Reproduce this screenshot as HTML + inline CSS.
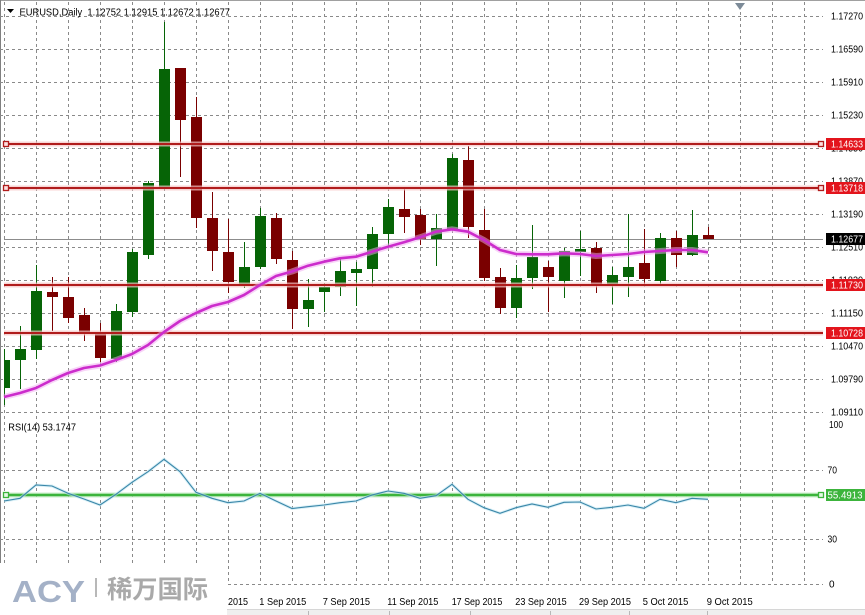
<!DOCTYPE html>
<html><head><meta charset="utf-8"><style>
html,body{margin:0;padding:0;background:#fff;width:865px;height:615px;overflow:hidden}
svg{display:block}
text{font-family:"Liberation Sans","Noto Sans CJK SC",sans-serif;}
</style></head><body>
<svg width="865" height="615" viewBox="0 0 865 615" xmlns="http://www.w3.org/2000/svg">
<defs><clipPath id="pl"><rect x="4" y="0" width="819" height="600"/></clipPath></defs>
<rect width="865" height="615" fill="#fff"/>
<!-- borders -->
<line x1="0" y1="0.5" x2="865" y2="0.5" stroke="#a0a0a0"/>
<line x1="0.5" y1="0" x2="0.5" y2="563" stroke="#808080"/>
<!-- horizontal grid -->
<g stroke="#8a8a8a" stroke-width="1" stroke-dasharray="3,3">
<line x1="0" y1="16.5" x2="823" y2="16.5"/>
<line x1="0" y1="49.5" x2="823" y2="49.5"/>
<line x1="0" y1="82.5" x2="823" y2="82.5"/>
<line x1="0" y1="115.5" x2="823" y2="115.5"/>
<line x1="0" y1="148.5" x2="823" y2="148.5"/>
<line x1="0" y1="181.5" x2="823" y2="181.5"/>
<line x1="0" y1="214.5" x2="823" y2="214.5"/>
<line x1="0" y1="247.5" x2="823" y2="247.5"/>
<line x1="0" y1="280.5" x2="823" y2="280.5"/>
<line x1="0" y1="313.5" x2="823" y2="313.5"/>
<line x1="0" y1="346.5" x2="823" y2="346.5"/>
<line x1="0" y1="379.5" x2="823" y2="379.5"/>
<line x1="0" y1="412.5" x2="823" y2="412.5"/>
<line x1="0" y1="470.5" x2="823" y2="470.5"/>
<line x1="0" y1="539.5" x2="823" y2="539.5"/>
<line x1="0" y1="584.5" x2="823" y2="584.5"/>
</g>
<!-- vertical grid -->
<g stroke="#8a8a8a" stroke-width="1" stroke-dasharray="3,3">
<line x1="4.5" y1="2" x2="4.5" y2="584"/><line x1="36.5" y1="2" x2="36.5" y2="584"/><line x1="68.5" y1="2" x2="68.5" y2="584"/><line x1="100.5" y1="2" x2="100.5" y2="584"/><line x1="132.5" y1="2" x2="132.5" y2="584"/><line x1="164.5" y1="2" x2="164.5" y2="584"/><line x1="196.5" y1="2" x2="196.5" y2="584"/><line x1="228.5" y1="2" x2="228.5" y2="584"/><line x1="260.5" y1="2" x2="260.5" y2="584"/><line x1="292.5" y1="2" x2="292.5" y2="584"/><line x1="324.5" y1="2" x2="324.5" y2="584"/><line x1="356.5" y1="2" x2="356.5" y2="584"/><line x1="388.5" y1="2" x2="388.5" y2="584"/><line x1="420.5" y1="2" x2="420.5" y2="584"/><line x1="452.5" y1="2" x2="452.5" y2="584"/><line x1="484.5" y1="2" x2="484.5" y2="584"/><line x1="516.5" y1="2" x2="516.5" y2="584"/><line x1="548.5" y1="2" x2="548.5" y2="584"/><line x1="580.5" y1="2" x2="580.5" y2="584"/><line x1="612.5" y1="2" x2="612.5" y2="584"/><line x1="644.5" y1="2" x2="644.5" y2="584"/><line x1="676.5" y1="2" x2="676.5" y2="584"/><line x1="708.5" y1="2" x2="708.5" y2="584"/><line x1="740.5" y1="12" x2="740.5" y2="584"/><line x1="772.5" y1="2" x2="772.5" y2="584"/><line x1="804.5" y1="2" x2="804.5" y2="584"/>
</g>
<!-- current price line -->
<line x1="4" y1="239.5" x2="823" y2="239.5" stroke="#8c8c8c" stroke-width="1"/>
<!-- candles -->
<g clip-path="url(#pl)">
<g fill="#066406">
<rect x="4" y="349" width="1" height="56"/><rect x="4" y="360" width="6" height="28"/>
<rect x="20" y="326" width="1" height="63"/><rect x="15" y="349" width="11" height="11"/>
<rect x="36" y="265" width="1" height="94"/><rect x="31" y="291" width="11" height="59"/>
<rect x="116" y="304" width="1" height="58"/><rect x="111" y="311" width="11" height="48"/>
<rect x="132" y="249" width="1" height="68"/><rect x="127" y="252" width="11" height="60"/>
<rect x="148" y="181" width="1" height="78"/><rect x="143" y="183" width="11" height="72"/>
<rect x="164" y="22" width="1" height="168"/><rect x="159" y="69" width="11" height="119"/>
<rect x="244" y="242" width="1" height="46"/><rect x="239" y="267" width="11" height="18"/>
<rect x="260" y="208" width="1" height="61"/><rect x="255" y="216" width="11" height="51"/>
<rect x="308" y="279" width="1" height="48"/><rect x="303" y="300" width="11" height="9"/>
<rect x="324" y="283" width="1" height="29"/><rect x="319" y="287" width="11" height="5"/>
<rect x="340" y="258" width="1" height="38"/><rect x="335" y="271" width="11" height="16"/>
<rect x="356" y="262" width="1" height="44"/><rect x="351" y="269" width="11" height="4"/>
<rect x="372" y="227" width="1" height="60"/><rect x="367" y="234" width="11" height="35"/>
<rect x="388" y="199" width="1" height="47"/><rect x="383" y="207" width="11" height="27"/>
<rect x="436" y="214" width="1" height="52"/><rect x="431" y="228" width="11" height="11"/>
<rect x="452" y="154" width="1" height="76"/><rect x="447" y="158" width="11" height="71"/>
<rect x="516" y="265" width="1" height="53"/><rect x="511" y="278" width="11" height="30"/>
<rect x="532" y="225" width="1" height="64"/><rect x="527" y="257" width="11" height="21"/>
<rect x="564" y="248" width="1" height="50"/><rect x="559" y="251" width="11" height="30"/>
<rect x="580" y="231" width="1" height="45"/><rect x="575" y="249" width="11" height="3"/>
<rect x="612" y="267" width="1" height="37"/><rect x="607" y="275" width="11" height="9"/>
<rect x="628" y="214" width="1" height="83"/><rect x="623" y="267" width="11" height="10"/>
<rect x="660" y="233" width="1" height="51"/><rect x="655" y="238" width="11" height="43"/>
<rect x="692" y="210" width="1" height="46"/><rect x="687" y="235" width="11" height="20"/>
</g>
<g fill="#7a0000">
<rect x="52" y="277" width="1" height="54"/><rect x="47" y="292" width="11" height="5"/>
<rect x="68" y="277" width="1" height="46"/><rect x="63" y="297" width="11" height="21"/>
<rect x="84" y="308" width="1" height="33"/><rect x="79" y="315" width="11" height="18"/>
<rect x="100" y="323" width="1" height="39"/><rect x="95" y="333" width="11" height="25"/>
<rect x="180" y="68" width="1" height="109"/><rect x="175" y="68" width="11" height="52"/>
<rect x="196" y="97" width="1" height="131"/><rect x="191" y="117" width="11" height="101"/>
<rect x="212" y="192" width="1" height="79"/><rect x="207" y="218" width="11" height="33"/>
<rect x="228" y="219" width="1" height="74"/><rect x="223" y="252" width="11" height="30"/>
<rect x="276" y="213" width="1" height="51"/><rect x="271" y="218" width="11" height="41"/>
<rect x="292" y="251" width="1" height="78"/><rect x="287" y="260" width="11" height="49"/>
<rect x="404" y="188" width="1" height="45"/><rect x="399" y="209" width="11" height="8"/>
<rect x="420" y="209" width="1" height="36"/><rect x="415" y="215" width="11" height="24"/>
<rect x="468" y="146" width="1" height="92"/><rect x="463" y="160" width="11" height="67"/>
<rect x="484" y="209" width="1" height="72"/><rect x="479" y="230" width="11" height="48"/>
<rect x="500" y="268" width="1" height="46"/><rect x="495" y="277" width="11" height="31"/>
<rect x="548" y="261" width="1" height="51"/><rect x="543" y="267" width="11" height="10"/>
<rect x="596" y="242" width="1" height="51"/><rect x="591" y="248" width="11" height="36"/>
<rect x="644" y="229" width="1" height="56"/><rect x="639" y="263" width="11" height="16"/>
<rect x="676" y="231" width="1" height="36"/><rect x="671" y="238" width="11" height="17"/>
<rect x="708" y="227" width="1" height="12"/><rect x="703" y="235" width="11" height="4"/>
</g>
</g>
<!-- red horizontal lines -->
<g fill="none">
<g stroke="#f6c4c4" stroke-width="5" opacity="0.7">
<line x1="4" y1="144" x2="823" y2="144"/><line x1="4" y1="188" x2="823" y2="188"/><line x1="4" y1="285" x2="823" y2="285"/><line x1="4" y1="333" x2="823" y2="333"/>
</g>
<g stroke="#b01c1c" stroke-width="2">
<line x1="4" y1="144" x2="823" y2="144"/><line x1="4" y1="188" x2="823" y2="188"/><line x1="4" y1="285" x2="823" y2="285"/><line x1="4" y1="333" x2="823" y2="333"/>
</g>
<g stroke="#b01c1c" stroke-width="1.3" fill="#fde0e0">
<rect x="3.5" y="141.5" width="5" height="5"/><rect x="818.5" y="141.5" width="5" height="5"/>
<rect x="3.5" y="185.5" width="5" height="5"/><rect x="818.5" y="185.5" width="5" height="5"/>
</g>
</g>
<!-- MA -->
<polyline fill="none" stroke="#f2a8f2" stroke-width="6" opacity="0.5" stroke-linejoin="round" points="4,397 20,393 36,388 52,380 68,373 84,368 100,365.5 116,360 132,354 148,345 164,332 180,321 196,313 212,306 228,302 244,295 260,285 276,276 292,271.5 308,265.7 324,261.7 340,258.3 356,256.7 372,251.7 388,246.7 404,242.3 420,237.3 436,231.7 452,229.3 468,231.7 484,240 500,250 516,254 532,254.3 548,254.3 564,253.3 580,254 596,256 612,255 628,254 644,252 660,251 676,250 692,250 708,252.3"/>
<polyline fill="none" stroke="#cc2ccc" stroke-width="2.6" stroke-linejoin="round" points="4,397 20,393 36,388 52,380 68,373 84,368 100,365.5 116,360 132,354 148,345 164,332 180,321 196,313 212,306 228,302 244,295 260,285 276,276 292,271.5 308,265.7 324,261.7 340,258.3 356,256.7 372,251.7 388,246.7 404,242.3 420,237.3 436,231.7 452,229.3 468,231.7 484,240 500,250 516,254 532,254.3 548,254.3 564,253.3 580,254 596,256 612,255 628,254 644,252 660,251 676,250 692,250 708,252.3"/>
<!-- RSI green level -->
<line x1="4" y1="495" x2="823" y2="495" stroke="#b8e8b8" stroke-width="5" opacity="0.7"/>
<line x1="4" y1="495" x2="823" y2="495" stroke="#3cb43c" stroke-width="2.5"/>
<rect x="3.5" y="492.5" width="5" height="5" fill="#e6f8e6" stroke="#3cb43c" stroke-width="1.3"/>
<rect x="818.5" y="492.5" width="5" height="5" fill="#e6f8e6" stroke="#3cb43c" stroke-width="1.3"/>
<!-- RSI line -->
<polyline fill="none" stroke="#bfe6f2" stroke-width="3" opacity="0.6" points="4,501 20,498.3 36,485 52,486 68,493.3 84,499 100,505 116,494.3 132,482.3 148,471.7 164,459.3 180,471.7 196,492.3 212,498.3 228,502.7 244,501 260,493.3 276,501 292,508.5 308,506.7 324,505 340,502.7 356,501 372,495 388,491 404,493.3 420,498.3 436,495.7 452,484.3 468,499.3 484,507.7 500,513.3 516,507.7 532,504 548,507.3 564,502.3 580,502 596,509 612,507.3 628,505 644,508.3 660,499.3 676,502.7 692,498.3 708,499.3"/>
<polyline fill="none" stroke="#3a86a8" stroke-width="1.1" points="4,501 20,498.3 36,485 52,486 68,493.3 84,499 100,505 116,494.3 132,482.3 148,471.7 164,459.3 180,471.7 196,492.3 212,498.3 228,502.7 244,501 260,493.3 276,501 292,508.5 308,506.7 324,505 340,502.7 356,501 372,495 388,491 404,493.3 420,498.3 436,495.7 452,484.3 468,499.3 484,507.7 500,513.3 516,507.7 532,504 548,507.3 564,502.3 580,502 596,509 612,507.3 628,505 644,508.3 660,499.3 676,502.7 692,498.3 708,499.3"/>
<!-- title -->
<polygon points="7,9 14,9 10.5,13" fill="#000"/>
<text x="19.5" y="15.3" font-size="10" fill="#000" textLength="210.5" lengthAdjust="spacingAndGlyphs" style="white-space:pre">EURUSD,Daily  1.12752 1.12915 1.12672 1.12677</text>
<polygon points="735,3 745,3 740,10" fill="#7d8b98"/>
<!-- price axis labels -->
<g font-size="10" fill="#000">
<text x="831" y="19.6" textLength="32" lengthAdjust="spacingAndGlyphs">1.17270</text>
<text x="831" y="52.6" textLength="32" lengthAdjust="spacingAndGlyphs">1.16590</text>
<text x="831" y="85.6" textLength="32" lengthAdjust="spacingAndGlyphs">1.15910</text>
<text x="831" y="118.6" textLength="32" lengthAdjust="spacingAndGlyphs">1.15230</text>
<text x="831" y="151.6" textLength="32" lengthAdjust="spacingAndGlyphs">1.14550</text>
<text x="831" y="184.6" textLength="32" lengthAdjust="spacingAndGlyphs">1.13870</text>
<text x="831" y="217.6" textLength="32" lengthAdjust="spacingAndGlyphs">1.13190</text>
<text x="831" y="250.6" textLength="32" lengthAdjust="spacingAndGlyphs">1.12510</text>
<text x="831" y="283.6" textLength="32" lengthAdjust="spacingAndGlyphs">1.11830</text>
<text x="831" y="316.6" textLength="32" lengthAdjust="spacingAndGlyphs">1.11150</text>
<text x="831" y="349.6" textLength="32" lengthAdjust="spacingAndGlyphs">1.10470</text>
<text x="831" y="382.6" textLength="32" lengthAdjust="spacingAndGlyphs">1.09790</text>
<text x="831" y="415.3" textLength="32" lengthAdjust="spacingAndGlyphs">1.09110</text>
<text x="829" y="428" textLength="14" lengthAdjust="spacingAndGlyphs">100</text>
<text x="827.5" y="473.6" textLength="9.5" lengthAdjust="spacingAndGlyphs">70</text>
<text x="827.5" y="542.6" textLength="9.5" lengthAdjust="spacingAndGlyphs">30</text>
<text x="829" y="587.6">0</text>
</g>
<!-- colored labels -->
<rect x="826" y="138" width="39" height="12" fill="#e3141c"/>
<rect x="826" y="182" width="39" height="12" fill="#e3141c"/>
<rect x="826" y="233" width="39" height="12" fill="#000"/>
<rect x="826" y="279" width="39" height="12" fill="#e3141c"/>
<rect x="826" y="327" width="39" height="12" fill="#e3141c"/>
<rect x="826" y="489" width="39" height="12" fill="#3cb43c"/>
<g font-size="10" fill="#fff">
<text x="831" y="147.6" textLength="32" lengthAdjust="spacingAndGlyphs">1.14633</text>
<text x="831" y="191.6" textLength="32" lengthAdjust="spacingAndGlyphs">1.13718</text>
<text x="831" y="242.6" textLength="32" lengthAdjust="spacingAndGlyphs">1.12677</text>
<text x="831" y="288.6" textLength="32" lengthAdjust="spacingAndGlyphs">1.11730</text>
<text x="831" y="336.6" textLength="32" lengthAdjust="spacingAndGlyphs">1.10728</text>
<text x="827.5" y="498.6" textLength="35" lengthAdjust="spacingAndGlyphs">55.4913</text>
</g>
<!-- RSI label -->
<text x="8.3" y="430.3" font-size="10" fill="#000" textLength="67.7" lengthAdjust="spacingAndGlyphs">RSI(14) 53.1747</text>
<!-- time axis -->
<g font-size="10.5" fill="#000">
<text x="228" y="604.8" textLength="20" lengthAdjust="spacingAndGlyphs">2015</text>
<text x="259.3" y="604.8" textLength="47" lengthAdjust="spacingAndGlyphs">1 Sep 2015</text>
<text x="322.7" y="604.8" textLength="47.3" lengthAdjust="spacingAndGlyphs">7 Sep 2015</text>
<text x="387.3" y="604.8" textLength="51" lengthAdjust="spacingAndGlyphs">11 Sep 2015</text>
<text x="451.7" y="604.8" textLength="50.6" lengthAdjust="spacingAndGlyphs">17 Sep 2015</text>
<text x="515.3" y="604.8" textLength="51.4" lengthAdjust="spacingAndGlyphs">23 Sep 2015</text>
<text x="579" y="604.8" textLength="52" lengthAdjust="spacingAndGlyphs">29 Sep 2015</text>
<text x="642.7" y="604.8" textLength="45.6" lengthAdjust="spacingAndGlyphs">5 Oct 2015</text>
<text x="706.7" y="604.8" textLength="46" lengthAdjust="spacingAndGlyphs">9 Oct 2015</text>
</g>
<!-- bottom strip -->
<rect x="0" y="609" width="865" height="6" fill="#efefef"/>
<line x1="0" y1="609.5" x2="865" y2="609.5" stroke="#d6d6d6"/>
<g stroke="#b8b8b8"><line x1="308.5" y1="611" x2="308.5" y2="615"/><line x1="389.5" y1="611" x2="389.5" y2="615"/><line x1="470.5" y1="611" x2="470.5" y2="615"/><line x1="550.5" y1="611" x2="550.5" y2="615"/><line x1="629.5" y1="611" x2="629.5" y2="615"/><line x1="707.5" y1="611" x2="707.5" y2="615"/></g>
<!-- watermark -->
<rect x="0" y="563" width="227" height="52" fill="#fff"/>
<text x="12" y="602" font-size="31" font-weight="bold" fill="#a4b1c7" textLength="73" lengthAdjust="spacingAndGlyphs">ACY</text>
<rect x="95" y="578" width="2" height="19" fill="#b8b8b8"/>
<text x="107" y="598" font-size="25" font-weight="bold" fill="#a9a9a9" font-family="'Noto Sans CJK SC','WenQuanYi Zen Hei',sans-serif" textLength="101" lengthAdjust="spacingAndGlyphs">稀万国际</text>
</svg>
</body></html>
